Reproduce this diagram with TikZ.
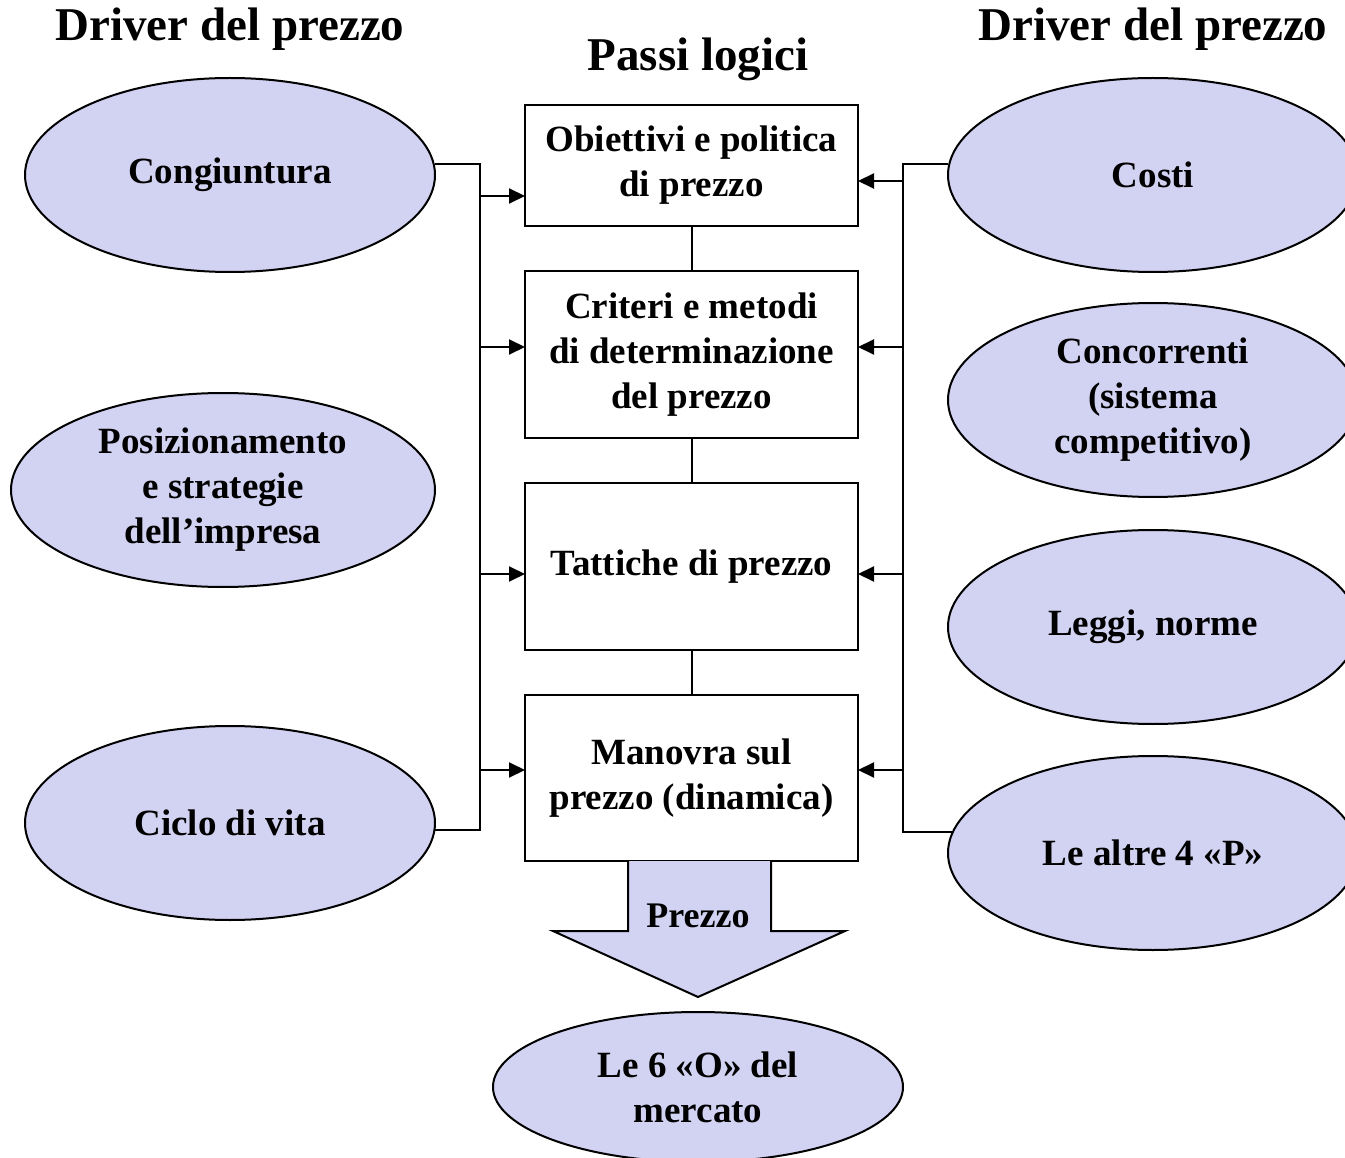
\documentclass[tikz,border=0pt]{standalone}
\usepackage{fontspec}
\setmainfont{Liberation Serif}
\usepackage{xcolor}
\usepackage{tikz}
\usetikzlibrary{positioning}
\usetikzlibrary{shapes.geometric}
\usetikzlibrary{arrows.meta}
\definecolor{lilla}{RGB}{210,210,242}
\tikzset{
    line/.style = {line width=2pt},
    arr/.style = {line width=2pt, -{Triangle[length=16pt,width=15pt]}},
    driver node/.style={shape=ellipse,draw=black,fill=lilla,line width=2pt,minimum width=410pt,minimum height=194pt,inner sep=0,align=center,font=\fontsize{37}{45}\selectfont\bfseries},
    pass box/.style={shape=rectangle,draw=black,line width=2pt,minimum width=333pt,inner sep=0,outer sep=0,align=center,font=\fontsize{37}{45}\selectfont\bfseries},
    title/.style={font=\fontsize{47}{56}\selectfont\bfseries}
}

\begin{document}
\begin{tikzpicture}[x=1pt,y=-1pt]
    \useasboundingbox (0,0) rectangle (1345,1158);
    \clip (0,0) rectangle (1345,1158);
    % titoli
    \node(tl)[title] at (230,29) {Driver del prezzo};
    \node(tr)[title] at (1153,29) {Driver del prezzo};
    \node(tm)[title] at (698,59) {Passi logici};
    % passi logici
    \node(obj)[pass box,minimum height=121pt] at (691.5,165.5) {Obiettivi e politica\\di prezzo};
    \node(crit)[pass box,minimum height=167pt,below=45pt of obj] {Criteri e metodi\\di determinazione\\del prezzo};
    \node(tatt)[pass box,minimum height=167pt,below=45pt of crit] {Tattiche di prezzo};
    \node(man)[pass box,minimum height=166pt,below=45pt of tatt] {Manovra sul\\prezzo (dinamica)};
    \draw[line](obj.south)--(crit.north);
    \draw[line](crit.south)--(tatt.north);
    \draw[line](tatt.south)--(man.north);
    % driver a sinistra
    \node(cong)[driver node] at (230,175) {Congiuntura};
    \node(pos)[driver node,minimum width=424pt] at (223,490) {Posizionamento\\e strategie\\dell’impresa};
    \node(ciclo)[driver node] at (230,823) {Ciclo di vita};
    % driver a destra
    \node(costi)[driver node] at (1153,175) {Costi};
    \node(conc)[driver node] at (1153,400) {Concorrenti\\(sistema\\competitivo)};
    \node(leggi)[driver node] at (1153,627) {Leggi, norme};
    \node(altre)[driver node] at (1153,853) {Le altre 4 «P»};
    % linee di raccordo
    \coordinate(lbus) at (480,0);
    \coordinate(rbus) at (903,0);
    \draw[line](cong.3)--(lbus |- cong.3)--(lbus |- ciclo.-2)--(ciclo.-2);
    \draw[line](costi.177)--(rbus |- costi.177)--(rbus |- altre.174)--(altre.174);
    \foreach \b/\yl/\yr in {obj/196/181, crit/347/347, tatt/574/574, man/770/770}{
        \draw[arr](lbus |- 0,\yl)--(\b.west |- 0,\yl);
        \draw[arr](rbus |- 0,\yr)--(\b.east |- 0,\yr);
    }
    % freccia del prezzo
    \coordinate(pr) at (698,861);
    \fill[lilla](628,861)--(628,931)--(553,931)--(698,997)--(845,931)--(771,931)--(771,861)--cycle;
    \draw[line,line join=miter](628,861)--(628,931)--(553,931)--(698,997)--(845,931)--(771,931)--(771,861);
    \node(prezzo)[font=\fontsize{36}{44}\selectfont\bfseries] at (pr |- 0,916) {Prezzo};
    \node(mercato)[driver node,minimum height=150pt] at (698,1087) {Le 6 «O» del\\mercato};
\end{tikzpicture}
\end{document}
